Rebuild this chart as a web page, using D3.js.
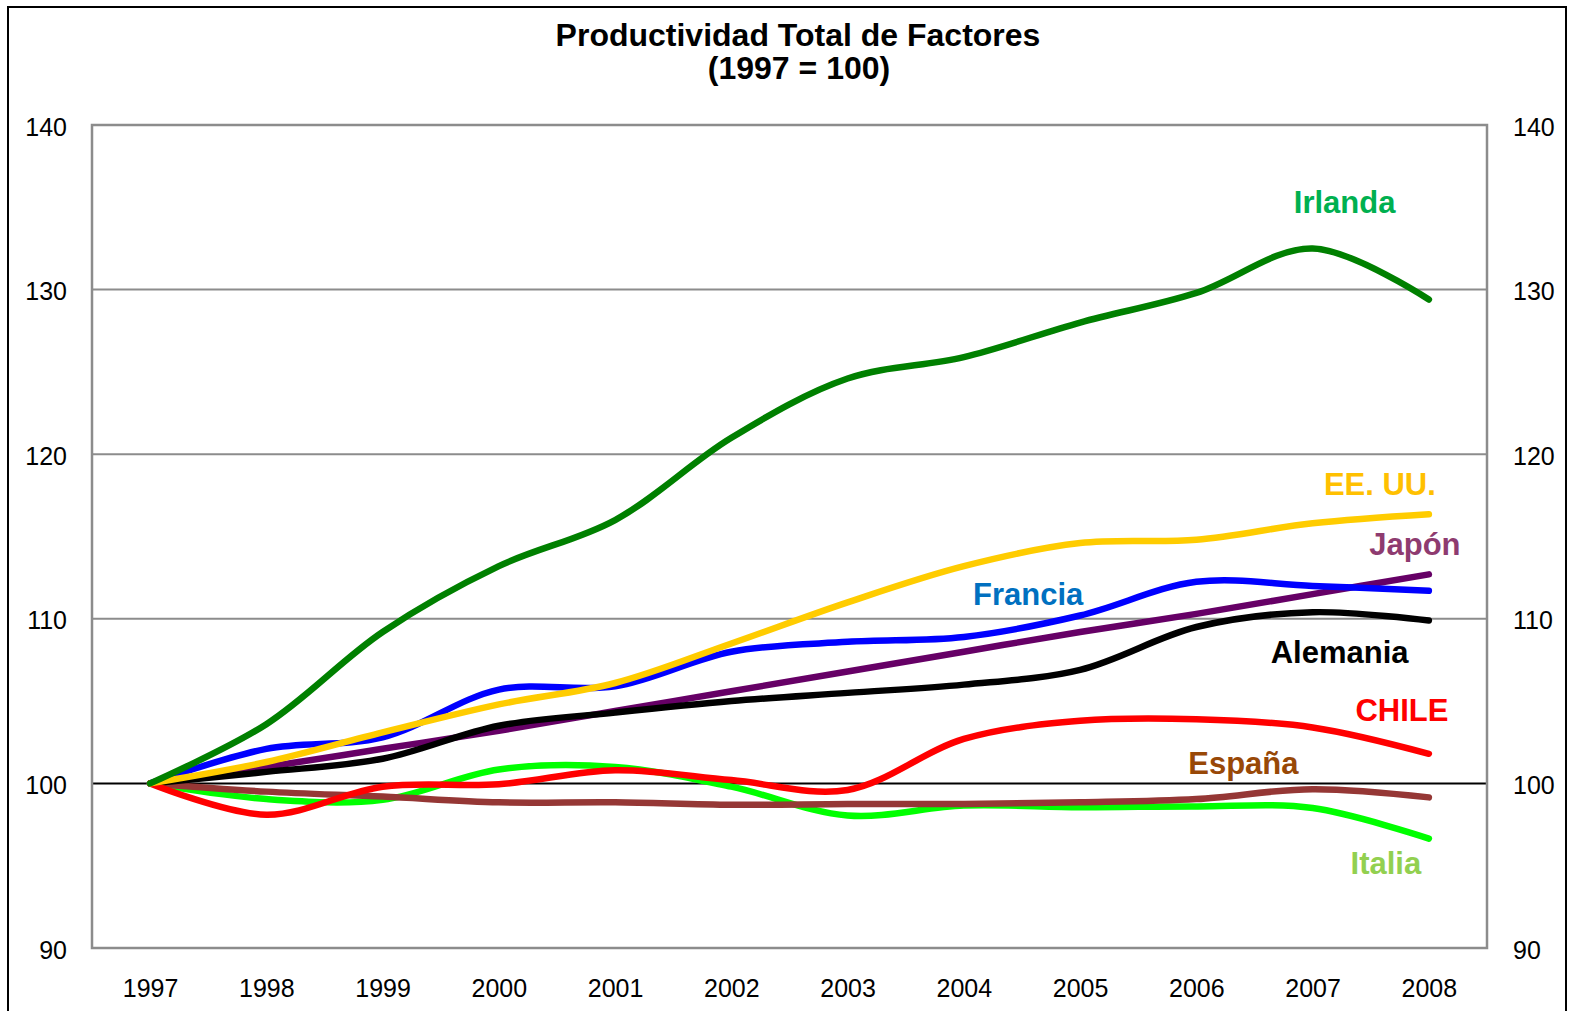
<!DOCTYPE html>
<html>
<head>
<meta charset="utf-8">
<script src="https://d3js.org/d3.v7.min.js"></script>
<style>
    body { margin: 0; background: #fff; }
    svg text { font-family: Arial, "Liberation Sans", sans-serif; }
</style>
</head>
<body>
<div id="chart"></div>
<script>
// data (index 1997 = 100)
var years = ["1997", "1998", "1999", "2000", "2001", "2002", "2003", "2004", "2005", "2006", "2007", "2008"];
var yTicks = [90, 100, 110, 120, 130, 140];

var irlanda  = [100, 103.6, 109.2, 113.2, 116.0, 121.0, 124.6, 125.9, 128.0, 129.8, 132.5, 129.4];
var eeuu     = [100, 101.3, 103.1, 104.8, 106.1, 108.5, 111.0, 113.2, 114.6, 114.8, 115.8, 116.35];
var japon    = [100, 101.0, 102.1, 103.2, 104.4, 105.6, 106.8, 108.0, 109.2, 110.3, 111.5, 112.7];
var francia  = [100, 102.1, 102.8, 105.7, 105.9, 108.0, 108.6, 108.9, 110.2, 112.25, 112.0, 111.7];
var alemania = [100, 100.7, 101.5, 103.5, 104.3, 105.0, 105.5, 106.0, 106.9, 109.5, 110.4, 109.9];
var chile    = [100, 98.1, 99.8, 99.95, 100.8, 100.2, 99.6, 102.7, 103.8, 103.9, 103.4, 101.8];
var espana   = [100, 99.5, 99.2, 98.85, 98.85, 98.7, 98.75, 98.75, 98.85, 99.05, 99.65, 99.15];
var italia   = [100, 99.05, 99.0, 100.85, 101.0, 99.8, 98.05, 98.65, 98.55, 98.6, 98.5, 96.65];

var seriesNames = ["Italia", "España", "Japón", "Alemania", "Francia", "CHILE", "EE. UU.", "Irlanda"];
var seriesValues = [italia, espana, japon, alemania, francia, chile, eeuu, irlanda];
var lineColors = ["#00FF00", "#953735", "#660066", "#000000", "#0000FF", "#FF0000", "#FFCC00", "#008000"];
var labelColors = ["#92D050", "#984807", "#8E3B70", "#000000", "#0070C0", "#FF0000", "#FFC000", "#00B050"];
// where each name is written: [year, value] plus a sideways nudge
var labelAnchors = [["2008", 94.5], ["2006", 100.55], ["2008", 113.9], ["2007", 107.3], ["2005", 110.85], ["2008", 103.8], ["2008", 117.55], ["2007", 134.65]];
var labelShift = [-43, 47, -14, 27, -52, -27, -49, 32];

var width = 1573, height = 1011;
var margin = { top: 125, right: 86, bottom: 63, left: 92 };

var svg = d3.select("#chart")
    .append("svg")
    .attr("width", width)
    .attr("height", height);

// outer frame
svg.append("rect")
    .attr("x", 8)
    .attr("y", 7)
    .attr("width", 1558)
    .attr("height", 1030)
    .attr("fill", "none")
    .attr("stroke", "#000")
    .attr("stroke-width", 2);

// title
svg.append("text")
    .attr("x", 798)
    .attr("y", 46)
    .attr("text-anchor", "middle")
    .style("font-size", "32px")
    .style("font-weight", "bold")
    .text("Productividad Total de Factores");
svg.append("text")
    .attr("x", 799)
    .attr("y", 79)
    .attr("text-anchor", "middle")
    .style("font-size", "32px")
    .style("font-weight", "bold")
    .text("(1997 = 100)");

var x = d3.scalePoint()
    .domain(years)
    .range([margin.left, width - margin.right])
    .padding(0.5);

var y = d3.scaleLinear()
    .domain([90, 140])
    .range([height - margin.bottom, margin.top]);

// gridlines
svg.append("g")
    .selectAll("line")
    .data(yTicks.filter(function (d) { return d != 90 && d != 140; }))
    .enter()
    .append("line")
    .attr("x1", margin.left)
    .attr("x2", width - margin.right)
    .attr("y1", function (d) { return y(d) })
    .attr("y2", function (d) { return y(d) })
    .attr("stroke", function (d) { return d == 100 ? "#000" : "#8c8c8c" })
    .attr("stroke-width", 2);

// plot frame
svg.append("rect")
    .attr("x", margin.left)
    .attr("y", margin.top)
    .attr("width", width - margin.left - margin.right)
    .attr("height", height - margin.top - margin.bottom)
    .attr("fill", "none")
    .attr("stroke", "#8c8c8c")
    .attr("stroke-width", 2.5);

// left and right axes
var leftAxis = svg.append("g")
    .attr("transform", "translate(" + (margin.left - 25) + ",2)")
    .call(d3.axisLeft(y).tickValues(yTicks).tickSize(0).tickPadding(0));
var rightAxis = svg.append("g")
    .attr("transform", "translate(" + (width - margin.right + 26) + ",2)")
    .call(d3.axisRight(y).tickValues(yTicks).tickSize(0).tickPadding(0));
var bottomAxis = svg.append("g")
    .attr("transform", "translate(0," + (height - margin.bottom + 31) + ")")
    .call(d3.axisBottom(x).tickSize(0).tickPadding(0));

[leftAxis, rightAxis, bottomAxis].forEach(function (a) {
    a.select(".domain").remove();
    a.selectAll("text")
        .style("font-size", "25px")
        .style("font-family", "Arial, 'Liberation Sans', sans-serif")
        .attr("fill", "#000");
});

// the lines
var line = d3.line()
    .x(function (d, i) { return x(years[i]) })
    .y(function (d) { return y(d) })
    .curve(d3.curveCatmullRom.alpha(0.5));

svg.append("g")
    .selectAll("path")
    .data(seriesValues)
    .enter()
    .append("path")
    .attr("d", line)
    .attr("fill", "none")
    .attr("stroke", function (d, i) { return lineColors[i] })
    .attr("stroke-width", 6.5)
    .attr("stroke-linecap", "round")
    .attr("stroke-linejoin", "round");

// series names
svg.append("g")
    .selectAll("text")
    .data(seriesNames)
    .enter()
    .append("text")
    .attr("x", function (d, i) { return x(labelAnchors[i][0]) + labelShift[i] })
    .attr("y", function (d, i) { return y(labelAnchors[i][1]) })
    .attr("text-anchor", "middle")
    .attr("fill", function (d, i) { return labelColors[i] })
    .style("font-size", "31px")
    .style("font-weight", "bold")
    .text(function (d) { return d });
</script>
</body>
</html>
